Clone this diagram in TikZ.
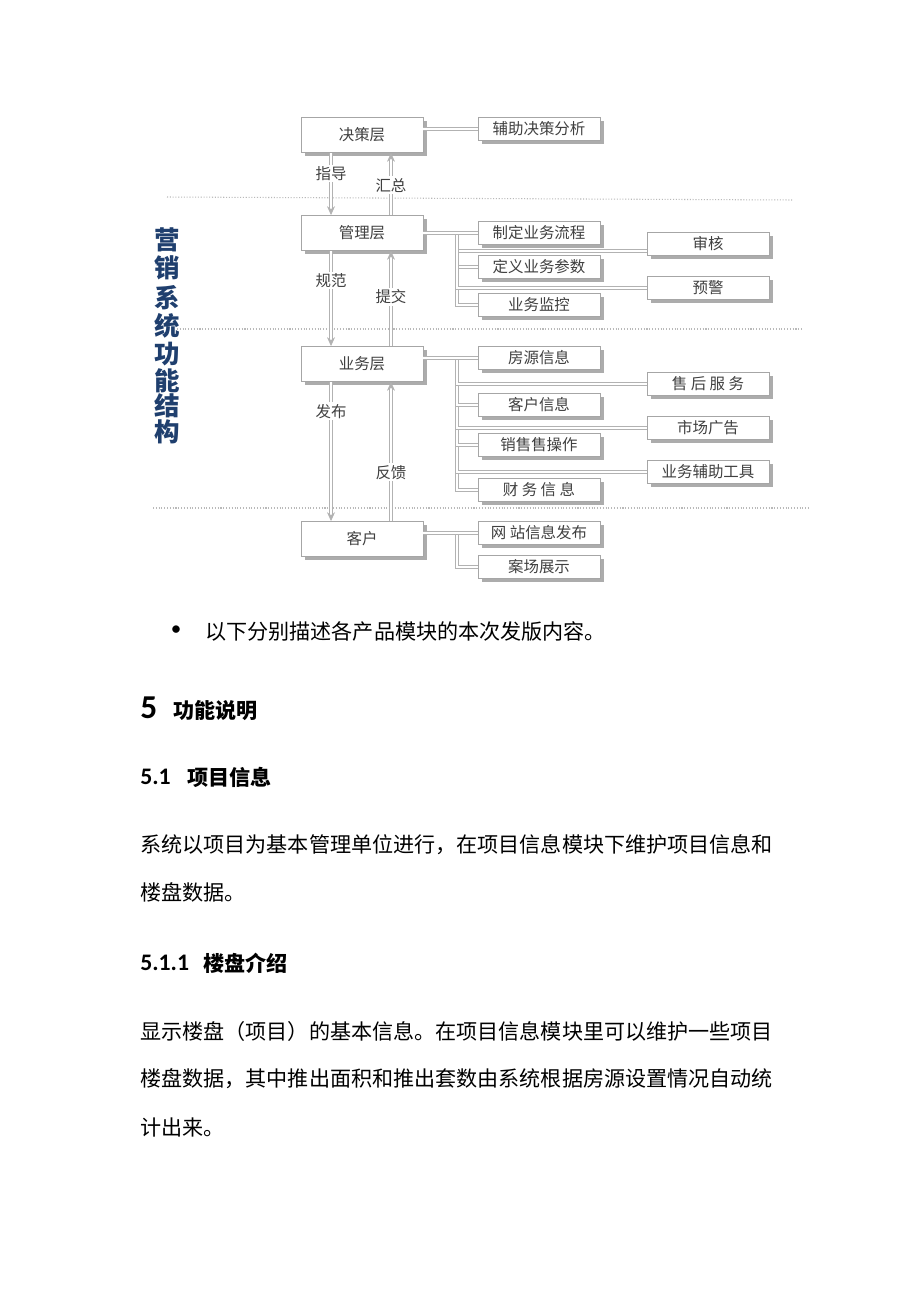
\documentclass[tikz,border=0pt]{standalone}
\usepackage{fontspec}
\setmainfont{Carlito}
\newfontfamily\cjk{Noto Sans CJK SC}
\newfontfamily\lat{Carlito}
\usetikzlibrary{arrows.meta}
\usetikzlibrary{shadows}
\definecolor{navy}{HTML}{1F3F6E}

\begin{document}
\begin{tikzpicture}[x=0.02cm, y=-0.02cm, >=Stealth,
    main/.style = {draw=gray!70, fill=white, line width=0.5pt, minimum width=2.44cm,
        minimum height=0.7cm, inner sep=0pt, text=black!75,
        font=\cjk\fontsize{8.8}{10}\selectfont,
        drop shadow={shadow xshift=2.2pt, shadow yshift=-2.2pt, fill=gray!65, opacity=1}},
    sub/.style = {main, minimum height=0.46cm},
    link/.style = {draw=gray!60, double=white, double distance=1.6pt, line width=0.45pt},
    flow/.style = {link, -{Stealth[length=5pt, width=4.5pt]}},
    tag/.style = {fill=white, inner sep=1pt, text=black!75, font=\cjk\fontsize{8.8}{10}\selectfont},
    title/.style = {inner sep=0pt, text=navy, font=\cjk\bfseries\fontsize{14.5}{16}\selectfont},
    sep/.style = {gray!55, densely dotted, line width=0.6pt},
    line/.style = {anchor=west, inner sep=0pt, font=\cjk\fontsize{12}{14}\selectfont},
    head/.style = {anchor=west, inner sep=0pt, font=\cjk\bfseries\fontsize{12}{14}\selectfont},
    num/.style = {anchor=west, inner sep=0pt, font=\lat\bfseries\fontsize{13.5}{15}\selectfont}]
    \path[use as bounding box, fill=white] (0,0) rectangle (920,1302);

    % Separators
    \draw[sep] (167,197) -- (793,200);
    \draw[sep] (177,329) -- (802,329);
    \draw[sep] (153,508) -- (810,508);

    % Title
    \foreach \ch/\yy [count=\i] in {营/240, 销/268, 系/298, 统/326, 功/354, 能/381, 结/406, 构/432}
        \node[title] (title\i) at (167, \yy) {\ch};

    % Layers
    \node[main] (dec) at (362, 135) {决策层};
    \node[main] (mgr) at (362, 233) {管理层};
    \node[main] (biz) at (362, 364) {业务层};
    \node[main] (cus) at (362, 539) {客户};

    % Modules
    \node[sub] (aid) at (539, 129) {辅助决策分析};
    \node[sub] (proc) at (539, 233) {制定业务流程};
    \node[sub] (param) at (539, 267) {定义业务参数};
    \node[sub] (watch) at (539, 305) {业务监控};
    \node[sub] (audit) at (708, 244) {审核};
    \node[sub] (warn) at (708, 288) {预警};

    \node[sub] (house) at (539, 358) {房源信息};
    \node[sub] (client) at (539, 405) {客户信息};
    \node[sub] (sale) at (539, 445) {销售售操作};
    \node[sub] (fin) at (539, 490) {财~务~信~息};
    \node[sub] (after) at (708, 384) {售~后~服~务};
    \node[sub] (ads) at (708, 428) {市场广告};
    \node[sub] (tool) at (708, 472) {业务辅助工具};

    \node[sub] (web) at (539, 533) {网~站信息发布};
    \node[sub] (show) at (539, 567) {案场展示};

    \coordinate (j2) at (457, 233);
    \coordinate (j3) at (457, 358);
    \coordinate (j4) at (457, 533);

    % Edges
    \draw[link] (aid.west -| dec.east) -- (aid.west);

    \draw[link] (j2) |- (watch.west);
    \draw[link] (j2) |- (param.west);
    \draw[link] (j2) |- ([yshift=-4pt]audit.west);
    \draw[link] (j2) |- (warn.west);
    \draw[link] (proc.west -| mgr.east) -- (proc.west);

    \draw[link] (j3) |- (fin.west);
    \draw[link] (j3) |- (tool.west);
    \draw[link] (j3) |- (sale.west);
    \draw[link] (j3) |- (ads.west);
    \draw[link] (j3) |- (client.west);
    \draw[link] (j3) |- (after.west);
    \draw[link] (house.west -| biz.east) -- (house.west);

    \draw[link] (j4) |- (show.west);
    \draw[link] (web.west -| cus.east) -- (web.west);

    \draw[flow] ([xshift=-0.62cm]dec.south) -- node[tag, pos=0.33] {指导} ([xshift=-0.62cm]mgr.north);
    \draw[flow] ([xshift=0.58cm]mgr.north) -- node[tag, pos=0.48] {汇总} ([xshift=0.58cm]dec.south);
    \draw[flow] ([xshift=-0.62cm]mgr.south) -- node[tag, pos=0.31] {规范} ([xshift=-0.62cm]biz.north);
    \draw[flow] ([xshift=0.58cm]biz.north) -- node[tag, pos=0.52] {提交} ([xshift=0.58cm]mgr.south);
    \draw[flow] ([xshift=-0.62cm]biz.south) -- node[tag, pos=0.21] {发布} ([xshift=-0.62cm]cus.north);
    \draw[flow] ([xshift=0.58cm]cus.north) -- node[tag, pos=0.35] {反馈} ([xshift=0.58cm]biz.south);

    % Text
    \node[inner sep=0pt, font=\lat\fontsize{12}{14}\selectfont] (dot) at (176, 631) {•};
    \node[line] (intro) at (205, 631) {以下分别描述各产品模块的本次发版内容。};

    \node[anchor=west, inner sep=0pt, font=\lat\bfseries\fontsize{19}{21}\selectfont] (n5) at (140, 708) {5};
    \node[head] (h5) at (173, 711) {功能说明};
    \node[num] (n51) at (140, 777) {5.1};
    \node[head] (h51) at (187, 777) {项目信息};
    \node[line] (p1) at (140, 845) {系统以项目为基本管理单位进行，在项目信息模块下维护项目信息和};
    \node[line] (p2) at (140, 892) {楼盘数据。};
    \node[num] (n511) at (140, 963) {5.1.1};
    \node[head] (h511) at (203, 963) {楼盘介绍};
    \node[line] (p3) at (140, 1031) {显示楼盘（项目）的基本信息。在项目信息模块里可以维护一些项目};
    \node[line] (p4) at (140, 1079) {楼盘数据，其中推出面积和推出套数由系统根据房源设置情况自动统};
    \node[line] (p5) at (140, 1127) {计出来。};

\end{tikzpicture}
\end{document}
